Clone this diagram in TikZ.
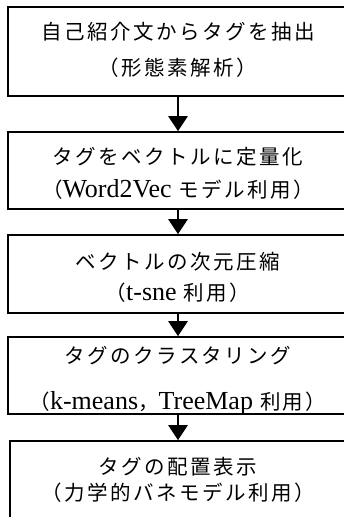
\documentclass[tikz,border=0pt]{standalone}
\usepackage{fontspec}
\setmainfont{Liberation Serif}
\newfontfamily\jp[LetterSpace=12]{Noto Sans CJK JP}
\usetikzlibrary{arrows.meta}
\newcommand\La[1]{{\rmfamily\fontsize{26}{28}\selectfont #1}}
\begin{document}
\begin{tikzpicture}[x=1pt,y=-1pt,
  stepbox/.style={draw, line width=1.6pt, rectangle, inner sep=0pt, minimum width=340pt},
  txt/.style={anchor=base, inner sep=0pt, font=\fontsize{20.5}{24}\selectfont\jp},
  flow/.style={line width=2.6pt, -{Triangle[width=19pt,length=15pt]}}]
\useasboundingbox (0,0) rectangle (344,517);
\clip (0,0) rectangle (344,517);
\node[stepbox, minimum height=89pt] (b1) at (178,51.5) {};
\node[stepbox, minimum height=77pt] (b2) at (178,170.5) {};
\node[stepbox, minimum height=78pt] (b3) at (178,274) {};
\node[stepbox, minimum height=77pt] (b4) at (178,375.5) {};
\node[stepbox, minimum height=100pt, minimum width=336pt] (b5) at (178,491) {};

\node[txt] (t1a) at (178,39.5) {自己紹介文からタグを抽出};
\node[txt] (t1b) at (178,75.5) {（形態素解析）};
\node[txt] (t2a) at (178,164.5) {タグをベクトルに定量化};
\node[txt] (t2b) at (178,197.5) {（\La{Word2Vec} モデル利用）};
\node[txt] (t3a) at (178,269.5) {ベクトルの次元圧縮};
\node[txt] (t3b) at (178,300.5) {（\La{t-sne} 利用）};
\node[txt] (t4a) at (178,363.5) {タグのクラスタリング};
\node[txt] (t4b) at (178,409.5) {（\La{k-means}，\La{TreeMap} 利用）};
\node[txt] (t5a) at (178,474.5) {タグの配置表示};
\node[txt] (t5b) at (178,500.5) {（力学的バネモデル利用）};

\draw[flow] (b1.south) -- (b2.north);
\draw[flow] (b2.south) -- (b3.north);
\draw[flow] (b3.south) -- (b4.north);
\draw[flow] (b4.south) -- (b5.north);
\end{tikzpicture}
\end{document}
